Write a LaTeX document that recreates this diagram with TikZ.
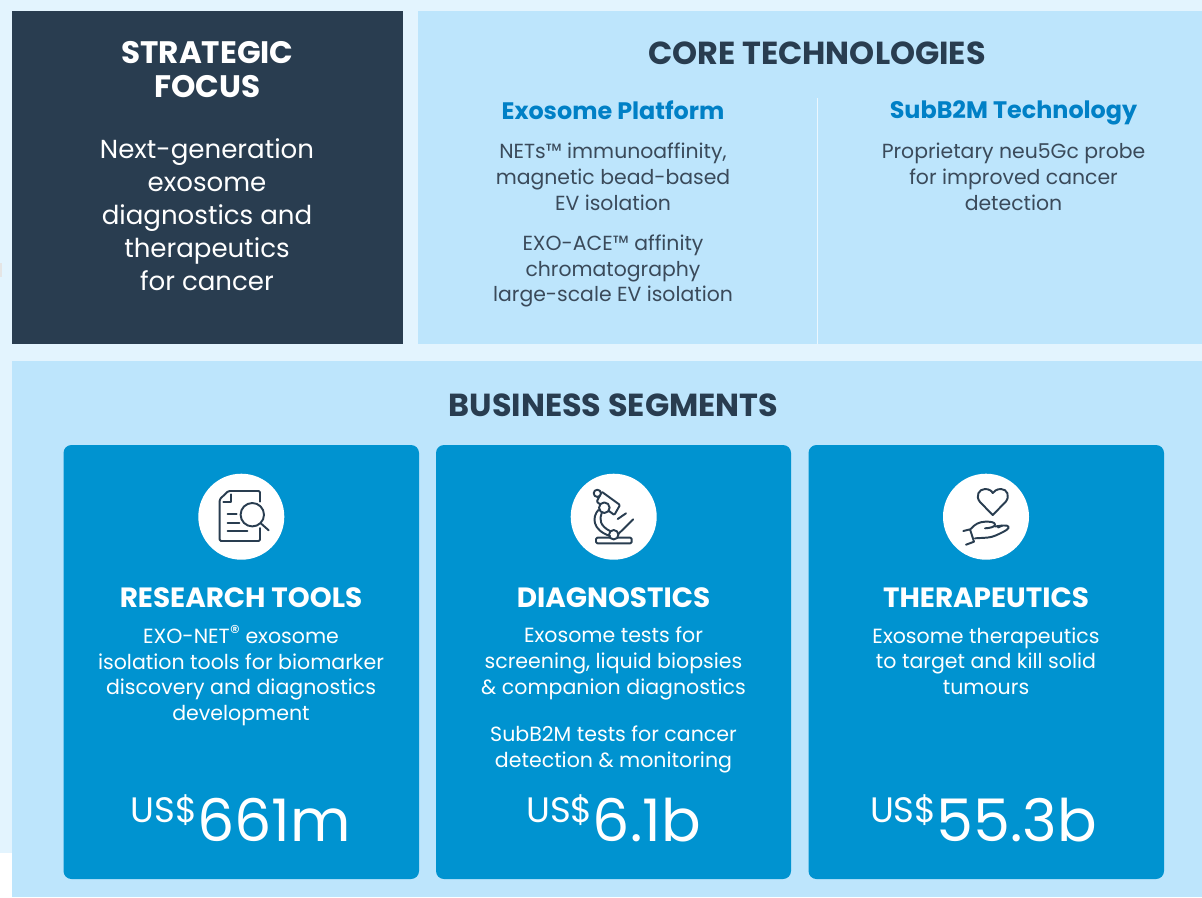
\documentclass[tikz,border=0pt]{standalone}
\usepackage{fontspec}
\setmainfont{Poppins}
\definecolor{bgpale}{HTML}{E3F4FE}
\definecolor{panel}{HTML}{BDE5FC}
\definecolor{navy}{HTML}{293D50}
\definecolor{card}{HTML}{0093D0}
\definecolor{bodytxt}{HTML}{3A4A5A}
\definecolor{subhead}{HTML}{0080C6}
\definecolor{iconink}{HTML}{293D50}
\newcommand{\fsz}[2]{\fontsize{#1}{#2}\selectfont}
\tikzset{
 x=0.75pt,y=-0.75pt,
 txt/.style={inner sep=0,outer sep=0,align=center,anchor=center},
 h1/.style={txt,font=\bfseries\fsz{23.9}{25.5},text=navy},
 h2/.style={txt,font=\bfseries\fsz{17.9}{20},text=subhead},
 corebody/.style={txt,font=\fsz{15.3}{19.3},text=bodytxt},
 cardhead/.style={txt,font=\bfseries\fsz{20.9}{22},text=white},
 cardbody/.style={txt,font=\fsz{15.4}{19.3},text=white},
 cardbox/.style={fill=card,rounded corners=6pt,draw=none},
 iconbg/.style={circle,fill=white,minimum size=64.5pt,inner sep=0,draw=none},
 ink/.style={draw=iconink,line width=1.45pt,line cap=round,line join=round},
 moneytxt/.style={inner sep=0,outer sep=0,anchor=base,text=white},
}
\newcommand{\money}[1]{\raisebox{14pt}{\fsz{26.5}{27}US\$}{\fsz{44}{44}#1}}
\begin{document}
\begin{tikzpicture}
\useasboundingbox (0,0) rectangle (1202,897);
\fill[white] (0,0) rectangle (1202,897);
\fill[bgpale] (0,0) rectangle (1202,853);
\fill[black!10] (0,263) rectangle (2,277);
\fill[navy] (12,11) rectangle (403,344);
\fill[panel] (418,11) rectangle (1202,344);
\fill[panel] (12,361) rectangle (1202,897);
\coordinate (divtop) at (817.5,98);
\coordinate (divbot) at (817.5,344);
\draw[white!70!panel,line width=0.9pt] (divtop) -- (divbot);
\node[txt,font=\bfseries\fsz{23.3}{25.5},text=white] (sf) at (207.5,70) {STRATEGIC\\FOCUS};
\node[txt,font=\fsz{19.55}{24.7},text=white] (sfb) at (207,215) {Next-generation\\exosome\\diagnostics and\\therapeutics\\for cancer};
\node[h1] (ct) at (817,53) {CORE TECHNOLOGIES};
\node[h2] (ep) at (613,110) {Exosome Platform};
\node[h2] (sb) at (1013.5,112.5) {SubB2M Technology};
\node[corebody] (ep1) at (613,177) {NETs™ immunoaffinity,\\magnetic bead-based\\EV isolation};
\node[corebody] (ep2) at (613,271) {EXO-ACE™ affinity\\chromatography\\large-scale EV isolation};
\node[corebody] (sb1) at (1013.5,177) {Proprietary neu5Gc probe\\for improved cancer\\detection};
\node[h1] (bs) at (613.5,405) {BUSINESS SEGMENTS};
\path[cardbox] (63.5,445) rectangle (419,879);
\path[cardbox] (436,445) rectangle (791,879);
\path[cardbox] (808.5,445) rectangle (1164,879);
\node[iconbg] (c1) at (241.3,516.7) {};
\node[iconbg] (c2) at (613.7,516.7) {};
\node[iconbg] (c3) at (986,516.7) {};
% document icon
\draw[ink,rounded corners=1pt] (260,501.7) -- (260,491) -- (228.3,491) -- (219.7,499.3) -- (219.7,541) -- (260,541) -- (260,528);
\draw[ink] (230.7,494.3) -- (230.7,501.7) -- (223.3,501.7);
\draw[ink] (227.7,514) -- (236.7,514) (227.7,523) -- (239.3,523) (227.7,531.3) -- (247.3,531.3);
\draw[ink] (252.3,514.7) circle[radius=11.7];
\draw[ink] (261,523.5) -- (268.7,530.3);
% microscope icon
\draw[ink,rounded corners=1pt] (596,537.7) rectangle (631.7,543.3);
\draw[ink,fill=white] (613.7,534.7) circle[radius=4.7];
\draw[ink,rounded corners=0.8pt] (601.7,491.7) -- (620,505) -- (614.3,515) -- (596.7,501.7) -- cycle;
\draw[ink] (598.3,510) .. controls (592,517) and (592,530) .. (610,536);
\draw[ink] (601.7,513) .. controls (599,519) and (600,526) .. (610,531);
\draw[ink,fill=white] (604.3,507.7) circle[radius=5.3];
\draw[ink,fill=white] (597.3,493.3) circle[radius=3.6];
\draw[ink] (617.7,519) -- (626,513.3) (618.3,534) -- (633.3,519.3);
% heart and hand icon
\draw[ink] (992.7,515) -- (980,502) .. controls (975,496) and (979,489) .. (985,489) .. controls (989,489) and (992,491) .. (992.7,493) .. controls (994,491) and (997,489) .. (1001,489) .. controls (1007,489) and (1010.5,496) .. (1005.5,502) -- cycle;
\draw[ink] (963.3,531) -- (970,529.3) -- (974,541.7) -- (966,544.7);
\draw[ink] (970.7,529) .. controls (975,524) and (979,522) .. (985,521.7) .. controls (990,521.5) and (995,522) .. (995,524.5) .. controls (995,527) and (990,528) .. (985,528.3);
\draw[ink] (995,526.5) .. controls (999,526) and (1003,525) .. (1007,525.7) .. controls (1010,527) and (1009,529) .. (1003,532) .. controls (997,535) and (993,537) .. (988,537.5) .. controls (983,538) and (979,538) .. (975,538.3);
\draw[ink] (998,527.5) -- (1002,525.7);
% card text
\node[cardhead] (t1) at (241,598) {RESEARCH TOOLS};
\node[cardhead] (t2) at (613.5,598) {DIAGNOSTICS};
\node[cardhead] (t3) at (986,598) {THERAPEUTICS};
\node[cardbody] (b1) at (241,675.5) {EXO-NET\raisebox{3pt}{\fsz{15}{15}®} exosome\\isolation tools for biomarker\\discovery and diagnostics\\development};
\node[cardbody] (b2) at (613.5,663.5) {Exosome tests for\\screening, liquid biopsies\\\& companion diagnostics};
\node[cardbody] (b2b) at (613.5,749.5) {SubB2M tests for cancer\\detection \& monitoring};
\node[cardbody] (b3) at (986,661) {Exosome therapeutics\\to target and kill solid\\tumours};
\node[moneytxt] (m1) at (241,841.5) {\money{661m}};
\node[moneytxt] (m2) at (613.5,841.5) {\money{6.1b}};
\node[moneytxt] (m3) at (983.5,841.5) {\money{55.3b}};
\end{tikzpicture}
\end{document}
